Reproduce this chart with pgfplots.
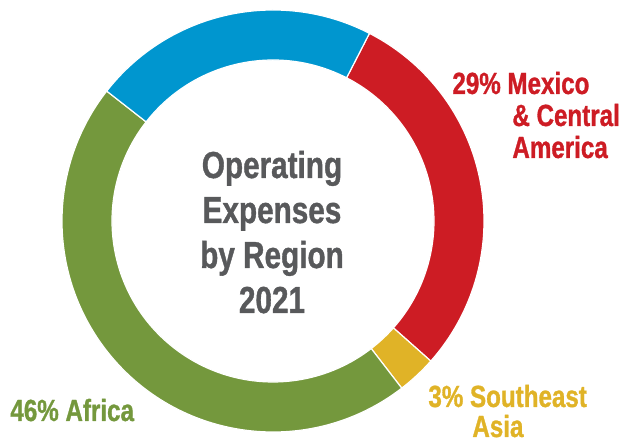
\documentclass[border=0pt]{standalone}
\usepackage{pgfplots}
\pgfplotsset{compat=1.18}
\usepackage{pgfplotstable}
\usepackage{fontspec}
\setmainfont{Liberation Sans}[FakeStretch=0.79, BoldFeatures={FakeBold=1}]

\definecolor{cred}{HTML}{CD1C24}
\definecolor{cyellow}{HTML}{E0B327}
\definecolor{cgreen}{HTML}{74983D}
\definecolor{cblue}{HTML}{0096CF}
\definecolor{cgray}{HTML}{58595B}

% share of operating expenses, clockwise from the top right
\pgfplotstableread{
value colour
29 cred
3  cyellow
46 cgreen
22 cblue
}\regions

\begin{document}
\begin{tikzpicture}
\begin{axis}[
    hide axis,
    x=0.5pt, y=0.5pt,
    xmin=0, xmax=621,
    ymin=0, ymax=444,
    clip=false,
]
\gdef\cum{0}
\pgfplotsinvokeforeach{0,...,3}{
    \pgfplotstablegetelem{#1}{value}\of\regions \let\val\pgfplotsretval
    \pgfplotstablegetelem{#1}{colour}\of\regions \let\col\pgfplotsretval
    \pgfmathsetmacro{\aA}{62.8-3.6*\cum}
    \pgfmathsetmacro{\aB}{\aA-3.6*\val}
    \pgfmathsetmacro{\xA}{273+211*cos(\aA)}
    \pgfmathsetmacro{\yA}{223+211*sin(\aA)}
    \pgfmathsetmacro{\xB}{273+161*cos(\aB)}
    \pgfmathsetmacro{\yB}{223+161*sin(\aB)}
    \edef\seg{\noexpand\fill[\col, draw=white, line width=0.6pt]
        (axis cs:\xA,\yA) arc[start angle=\aA, end angle=\aB, radius=105.5pt]
        -- (axis cs:\xB,\yB) arc[start angle=\aB, end angle=\aA, radius=80.5pt]
        -- cycle;}
    \seg
    \pgfmathsetmacro{\newcum}{\cum+\val}
    \xdef\cum{\newcum}
}

% centre title
\tikzset{ctr/.style={anchor=base, inner sep=0, text=cgray,
    font=\fontsize{18.8}{22}\selectfont\bfseries}}
\node[ctr] at (axis cs:272,266) {Operating};
\node[ctr] at (axis cs:272,221) {Expenses};
\node[ctr] at (axis cs:272,176) {by Region};
\node[ctr] at (axis cs:272,131) {2021};

% labels
\tikzset{lab/.style={anchor=base west, inner sep=0,
    font=\fontsize{15.3}{18}\selectfont\bfseries}}
\node[lab, text=cred] at (axis cs:452,350) {29\% Mexico};
\node[lab, text=cred] at (axis cs:512,318) {\& Central};
\node[lab, text=cred] at (axis cs:512,286) {America};
\node[lab, text=cgreen] at (axis cs:10,23) {46\% Africa};
\node[lab, text=cyellow] at (axis cs:428,37) {3\% Southeast};
\node[lab, text=cyellow] at (axis cs:472,7) {Asia};
\end{axis}
\pgfresetboundingbox
\path (current axis.south west) rectangle (current axis.north east);
\end{tikzpicture}
\end{document}
